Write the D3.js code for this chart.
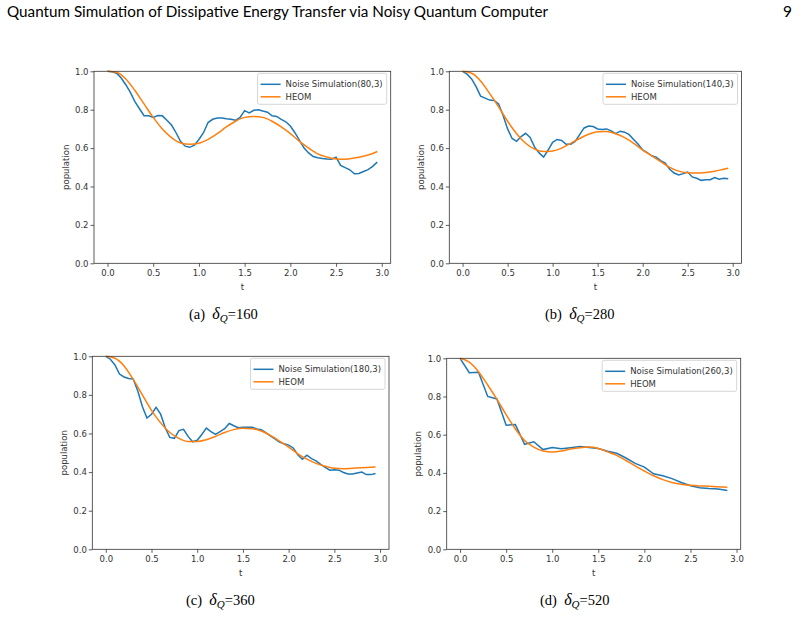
<!DOCTYPE html>
<html>
<head>
<meta charset="utf-8">
<script src="https://cdn.jsdelivr.net/npm/d3@7"></script>
<style>
	html, body { margin: 0; padding: 0; background: #fff; }
	svg { display: block; }
</style>
</head>
<body>
<div id="page"></div>
<script>
/* global d3 */

/**
 * Values.
 */
const tNoise = [
	0.00, 0.05, 0.10, 0.15, 0.20, 0.25, 0.30, 0.35, 0.40, 0.45,
	0.50, 0.55, 0.60, 0.65, 0.70, 0.75, 0.80, 0.85, 0.90, 0.95,
	1.00, 1.05, 1.10, 1.15, 1.20, 1.25, 1.30, 1.35, 1.40, 1.45,
	1.50, 1.55, 1.60, 1.65, 1.70, 1.75, 1.80, 1.85, 1.90, 1.95,
	2.00, 2.05, 2.10, 2.15, 2.20, 2.25, 2.30, 2.35, 2.40, 2.45,
	2.50, 2.55, 2.60, 2.65, 2.70, 2.75, 2.80, 2.85, 2.90, 2.95,
];
const tHeom = [
	0.0, 0.1, 0.2, 0.3, 0.4, 0.5, 0.6, 0.7, 0.8, 0.9,
	1.0, 1.1, 1.2, 1.3, 1.4, 1.5, 1.6, 1.7, 1.8, 1.9,
	2.0, 2.1, 2.2, 2.3, 2.4, 2.5, 2.6, 2.7, 2.8, 2.9, 2.95,
];
const tCoarse = [
	0.0, 0.1, 0.2, 0.3, 0.4, 0.5, 0.6, 0.7, 0.8, 0.9,
	1.0, 1.1, 1.2, 1.3, 1.4, 1.5, 1.6, 1.7, 1.8, 1.9,
	2.0, 2.1, 2.2, 2.3, 2.4, 2.5, 2.6, 2.7, 2.8, 2.9,
];

const noiseA = [
	1.0, 0.997, 0.99, 0.965, 0.93, 0.89, 0.842, 0.805, 0.769, 0.768,
	0.76, 0.77, 0.768, 0.745, 0.72, 0.68, 0.634, 0.61, 0.604, 0.615,
	0.645, 0.68, 0.733, 0.75, 0.757, 0.757, 0.753, 0.75, 0.745, 0.76,
	0.795, 0.783, 0.797, 0.80, 0.793, 0.787, 0.768, 0.765, 0.75, 0.737,
	0.715, 0.68, 0.64, 0.60, 0.575, 0.556, 0.55, 0.546, 0.543, 0.542,
	0.553, 0.51, 0.498, 0.487, 0.466, 0.468, 0.478, 0.488, 0.505, 0.527,
];
const heomA = [
	1.0, 0.995, 0.96, 0.9, 0.83, 0.76, 0.70, 0.655, 0.627, 0.62,
	0.625, 0.645, 0.675, 0.71, 0.74, 0.76, 0.765, 0.76, 0.74, 0.71,
	0.675, 0.635, 0.6, 0.57, 0.553, 0.543, 0.542, 0.548, 0.558, 0.572, 0.582,
];

const noiseB = [
	1.0, 0.985, 0.96, 0.92, 0.871, 0.86, 0.85, 0.848, 0.83, 0.77,
	0.70, 0.65, 0.635, 0.66, 0.677, 0.655, 0.605, 0.575, 0.553, 0.59,
	0.63, 0.645, 0.64, 0.62, 0.62, 0.635, 0.67, 0.705, 0.715, 0.712,
	0.70, 0.697, 0.70, 0.69, 0.675, 0.688, 0.683, 0.67, 0.645, 0.62,
	0.59, 0.577, 0.56, 0.553, 0.535, 0.522, 0.49, 0.47, 0.46, 0.467,
	0.475, 0.45, 0.443, 0.432, 0.435, 0.435, 0.447, 0.438, 0.443, 0.44,
];
const heomB = [
	1.0, 0.99, 0.95, 0.885, 0.815, 0.74, 0.675, 0.625, 0.595, 0.582,
	0.585, 0.6, 0.625, 0.65, 0.672, 0.685, 0.687, 0.675, 0.655, 0.625,
	0.59, 0.56, 0.53, 0.5, 0.48, 0.472, 0.47, 0.473, 0.48, 0.49, 0.495,
];

const noiseC = [
	1.0, 0.985, 0.955, 0.908, 0.893, 0.885, 0.882, 0.82, 0.74, 0.68,
	0.70, 0.735, 0.70, 0.63, 0.58, 0.575, 0.615, 0.622, 0.585, 0.557,
	0.565, 0.595, 0.628, 0.61, 0.595, 0.61, 0.625, 0.652, 0.64, 0.63,
	0.632, 0.633, 0.633, 0.624, 0.62, 0.605, 0.588, 0.572, 0.555, 0.547,
	0.54, 0.525, 0.49, 0.467, 0.488, 0.47, 0.458, 0.44, 0.425, 0.41,
	0.412, 0.41, 0.398, 0.39, 0.39, 0.395, 0.40, 0.387, 0.387, 0.393,
];
const heomC = [
	1.0, 0.99, 0.95, 0.88, 0.8, 0.72, 0.655, 0.605, 0.575, 0.558,
	0.558, 0.568, 0.585, 0.605, 0.62, 0.627, 0.625, 0.613, 0.59, 0.56,
	0.53, 0.495, 0.467, 0.445, 0.43, 0.42, 0.418, 0.42, 0.422, 0.425, 0.427,
];

const noiseD = [
	1.0, 0.925, 0.927, 0.80, 0.787, 0.65, 0.653, 0.55, 0.563, 0.522,
	0.533, 0.527, 0.532, 0.538, 0.533, 0.528, 0.513, 0.503, 0.478, 0.45,
	0.43, 0.395, 0.385, 0.37, 0.35, 0.333, 0.322, 0.318, 0.316, 0.308,
];
const heomD = [
	1.0, 0.98, 0.93, 0.86, 0.785, 0.705, 0.63, 0.57, 0.535, 0.515,
	0.51, 0.515, 0.525, 0.532, 0.535, 0.528, 0.51, 0.492, 0.465, 0.437,
	0.41, 0.385, 0.365, 0.35, 0.34, 0.335, 0.332, 0.33, 0.327, 0.325,
];

const xTicks = [ 0, 0.5, 1.0, 1.5, 2.0, 2.5, 3.0 ];
const yTicks = [ 0, 0.2, 0.4, 0.6, 0.8, 1.0 ];

const panels = [
	{ tag: '(a)', delta: '160', shots: '(80,3)', tn: tNoise, noise: noiseA, th: tHeom, heom: heomA, box: [ 94, 71.3, 390.7, 263.3 ], cap: [ 189, 319 ] },
	{ tag: '(b)', delta: '280', shots: '(140,3)', tn: tNoise, noise: noiseB, th: tHeom, heom: heomB, box: [ 449.3, 71.3, 741.5, 263.3 ], cap: [ 545, 319 ] },
	{ tag: '(c)', delta: '360', shots: '(180,3)', tn: tNoise, noise: noiseC, th: tHeom, heom: heomC, box: [ 92.3, 356.3, 389, 549.3 ], cap: [ 186, 605 ] },
	{ tag: '(d)', delta: '520', shots: '(260,3)', tn: tCoarse, noise: noiseD, th: tCoarse, heom: heomD, box: [ 446.7, 358.3, 740.7, 549.3 ], cap: [ 540, 605 ] },
];

const BLUE = '#1f77b4';
const ORANGE = '#ff7f0e';
const TICK_FONT = 'DejaVu Sans, sans-serif';
const INK = '#333';

const svg = d3.select( '#page' )
	.append( 'svg' )
	.attr( 'width', 801 )
	.attr( 'height', 617 );

svg.append( 'rect' ).attr( 'width', 801 ).attr( 'height', 617 ).attr( 'fill', '#fff' );

// running header of the paper page
svg.append( 'text' )
	.attr( 'x', 7 )
	.attr( 'y', 17 )
	.attr( 'font-family', 'Lato, sans-serif' )
	.attr( 'font-size', 15.5 )
	.attr( 'textLength', 541 )
	.attr( 'lengthAdjust', 'spacingAndGlyphs' )
	.text( 'Quantum Simulation of Dissipative Energy Transfer via Noisy Quantum Computer' );

svg.append( 'text' )
	.attr( 'x', 792 )
	.attr( 'y', 17 )
	.attr( 'text-anchor', 'end' )
	.attr( 'font-family', 'Lato, sans-serif' )
	.attr( 'font-size', 15.5 )
	.text( '9' );

function drawPanel( p ) {
	const [ left, top, right, bottom ] = p.box;
	const tMax = d3.max( p.tn );
	const pad = tMax * 0.05;

	const x = d3.scaleLinear().domain( [ -pad, tMax + pad ] ).range( [ left, right ] );
	const y = d3.scaleLinear().domain( [ 0, 1 ] ).range( [ bottom, top ] );

	const g = svg.append( 'g' );

	const xAxis = g.append( 'g' )
		.attr( 'transform', `translate(0,${ bottom })` )
		.call( d3.axisBottom( x ).tickValues( xTicks ).tickFormat( d3.format( '.1f' ) ).tickSize( 3.5 ).tickPadding( 3 ) );
	const yAxis = g.append( 'g' )
		.attr( 'transform', `translate(${ left },0)` )
		.call( d3.axisLeft( y ).tickValues( yTicks ).tickFormat( d3.format( '.1f' ) ).tickSize( 3.5 ).tickPadding( 2 ) );

	[ xAxis, yAxis ].forEach( ( ax ) => {
		ax.select( '.domain' ).remove();
		ax.selectAll( 'line' ).attr( 'stroke', INK ).attr( 'stroke-width', 0.8 );
		ax.selectAll( 'text' )
			.attr( 'font-family', TICK_FONT )
			.attr( 'font-size', 8.5 )
			.attr( 'fill', INK );
	} );

	const line = ( ts, curve ) => d3.line()
		.x( ( d, i ) => x( ts[ i ] ) )
		.y( ( d ) => y( d ) )
		.curve( curve );

	g.append( 'path' )
		.attr( 'd', line( p.tn, d3.curveLinear )( p.noise ) )
		.attr( 'fill', 'none' )
		.attr( 'stroke', BLUE )
		.attr( 'stroke-width', 1.5 );

	g.append( 'path' )
		.attr( 'd', line( p.th, d3.curveMonotoneX )( p.heom ) )
		.attr( 'fill', 'none' )
		.attr( 'stroke', ORANGE )
		.attr( 'stroke-width', 1.5 );

	// axes frame
	g.append( 'rect' )
		.attr( 'x', left )
		.attr( 'y', top )
		.attr( 'width', right - left )
		.attr( 'height', bottom - top )
		.attr( 'fill', 'none' )
		.attr( 'stroke', INK )
		.attr( 'stroke-width', 0.8 );

	g.append( 'text' )
		.attr( 'x', ( left + right ) / 2 )
		.attr( 'y', bottom + 27 )
		.attr( 'text-anchor', 'middle' )
		.attr( 'font-family', TICK_FONT )
		.attr( 'font-size', 8.5 )
		.attr( 'fill', INK )
		.text( 't' );

	g.append( 'text' )
		.attr( 'transform', `translate(${ left - 25.5 },${ ( top + bottom ) / 2 }) rotate(-90)` )
		.attr( 'text-anchor', 'middle' )
		.attr( 'font-family', TICK_FONT )
		.attr( 'font-size', 8.5 )
		.attr( 'fill', INK )
		.text( 'population' );

	// legend, upper right
	const legend = g.append( 'g' );
	const box = legend.append( 'rect' )
		.attr( 'fill', '#fff' )
		.attr( 'fill-opacity', 0.8 )
		.attr( 'stroke', '#ccc' )
		.attr( 'stroke-width', 0.8 )
		.attr( 'rx', 2 );

	const entries = [
		{ label: 'Noise Simulation' + p.shots, color: BLUE },
		{ label: 'HEOM', color: ORANGE },
	];
	let textW = 0;
	entries.forEach( ( e, i ) => {
		const row = legend.append( 'g' ).attr( 'transform', `translate(0,${ 11 + i * 12.5 })` );
		row.append( 'line' )
			.attr( 'x1', 3 ).attr( 'x2', 23 )
			.attr( 'stroke', e.color )
			.attr( 'stroke-width', 1.5 );
		const t = row.append( 'text' )
			.attr( 'x', 28 )
			.attr( 'dy', '0.35em' )
			.attr( 'font-family', TICK_FONT )
			.attr( 'font-size', 8.5 )
			.attr( 'fill', INK )
			.text( e.label );
		textW = Math.max( textW, t.node().getComputedTextLength() );
	} );
	const legW = 28 + textW + 4;
	box.attr( 'width', legW ).attr( 'height', 31 );
	legend.attr( 'transform', `translate(${ right - 4 - legW },${ top + 2 })` );

	// subfigure caption
	const cap = svg.append( 'text' )
		.attr( 'x', p.cap[ 0 ] )
		.attr( 'y', p.cap[ 1 ] )
		.attr( 'font-family', 'Liberation Serif, serif' )
		.attr( 'font-size', 14.5 )
		.attr( 'fill', '#000' );
	cap.append( 'tspan' ).text( p.tag + '\u2002' );
	cap.append( 'tspan' ).attr( 'font-style', 'italic' ).attr( 'font-size', 16 ).text( 'δ' );
	cap.append( 'tspan' ).attr( 'font-style', 'italic' ).attr( 'font-size', 11 ).attr( 'dy', 3 ).text( 'Q' );
	cap.append( 'tspan' ).attr( 'dy', -3 ).text( '=' + p.delta );
}

panels.forEach( drawPanel );
</script>
</body>
</html>
